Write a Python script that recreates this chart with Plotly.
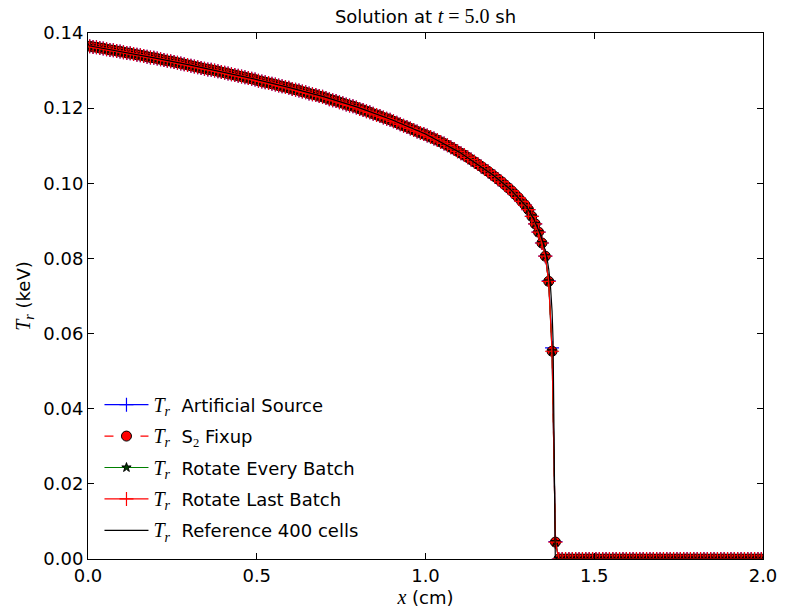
import plotly.graph_objects as go

# Cell-centred radiation temperature profiles (keV) on a 200-cell mesh over 0..2 cm
n_cells = 200
x_cells = [round(0.005 + 0.01 * i, 3) for i in range(n_cells)]

# Smooth body of the wave, x = 0.005 .. 1.295 cm (130 cells), common to all runs
tr_body = [
    0.1365, 0.1363, 0.1362, 0.1360, 0.1359, 0.1357, 0.1355, 0.1354, 0.1352, 0.1351,
    0.1349, 0.1347, 0.1346, 0.1344, 0.1342, 0.1341, 0.1339, 0.1337, 0.1335, 0.1334,
    0.1332, 0.1330, 0.1328, 0.1326, 0.1325, 0.1323, 0.1321, 0.1319, 0.1317, 0.1315,
    0.1313, 0.1311, 0.1309, 0.1307, 0.1305, 0.1303, 0.1302, 0.1300, 0.1298, 0.1296,
    0.1294, 0.1292, 0.1290, 0.1288, 0.1286, 0.1284, 0.1282, 0.1280, 0.1278, 0.1276,
    0.1273, 0.1271, 0.1269, 0.1267, 0.1265, 0.1263, 0.1260, 0.1258, 0.1256, 0.1254,
    0.1251, 0.1249, 0.1247, 0.1244, 0.1242, 0.1239, 0.1237, 0.1235, 0.1232, 0.1230,
    0.1227, 0.1224, 0.1221, 0.1219, 0.1216, 0.1213, 0.1210, 0.1207, 0.1205, 0.1202,
    0.1198, 0.1195, 0.1192, 0.1189, 0.1185, 0.1182, 0.1179, 0.1175, 0.1172, 0.1169,
    0.1165, 0.1161, 0.1157, 0.1153, 0.1150, 0.1146, 0.1142, 0.1138, 0.1134, 0.1131,
    0.1127, 0.1123, 0.1119, 0.1115, 0.1110, 0.1106, 0.1101, 0.1096, 0.1091, 0.1085,
    0.1080, 0.1075, 0.1069, 0.1063, 0.1057, 0.1051, 0.1045, 0.1038, 0.1032, 0.1025,
    0.1018, 0.1011, 0.1004, 0.0996, 0.0988, 0.0980, 0.0971, 0.0962, 0.0952, 0.0942,
]

# Wave front, x = 1.305 .. 1.385 cm, per run
front_artificial_source = [0.0930, 0.0912, 0.0892, 0.0870, 0.0841, 0.0806, 0.0740, 0.0562, 0.0046]
front_s2_fixup = [0.0930, 0.0912, 0.0892, 0.0870, 0.0841, 0.0806, 0.0739, 0.0553, 0.0045]
front_rotate_every = [0.0930, 0.0912, 0.0892, 0.0870, 0.0841, 0.0806, 0.0739, 0.0553, 0.0045]
front_rotate_last = [0.0930, 0.0912, 0.0892, 0.0870, 0.0841, 0.0806, 0.0739, 0.0553, 0.0045]

# Cold region ahead of the front, x = 1.395 .. 1.995 cm (61 cells)
tr_cold = [
    0.0, 0.0, 0.0, 0.0, 0.0, 0.0, 0.0, 0.0, 0.0, 0.0,
    0.0, 0.0, 0.0, 0.0, 0.0, 0.0, 0.0, 0.0, 0.0, 0.0,
    0.0, 0.0, 0.0, 0.0, 0.0, 0.0, 0.0, 0.0, 0.0, 0.0,
    0.0, 0.0, 0.0, 0.0, 0.0, 0.0, 0.0, 0.0, 0.0, 0.0,
    0.0, 0.0, 0.0, 0.0, 0.0, 0.0, 0.0, 0.0, 0.0, 0.0,
    0.0, 0.0, 0.0, 0.0, 0.0, 0.0, 0.0, 0.0, 0.0, 0.0,
    0.0,
]

tr_artificial_source = tr_body + front_artificial_source + tr_cold
tr_s2_fixup = tr_body + front_s2_fixup + tr_cold
tr_rotate_every = tr_body + front_rotate_every + tr_cold
tr_rotate_last = tr_body + front_rotate_last + tr_cold

# Fine-mesh (400 cells) reference solution, sampled along its profile
ref_x = [0.0025, 0.1, 0.2, 0.3, 0.4, 0.5, 0.6, 0.7, 0.8, 0.9, 1.0, 1.1, 1.2, 1.25,
         1.3, 1.32, 1.34, 1.35, 1.36, 1.365, 1.37, 1.375, 1.378, 1.3805, 1.3825,
         1.3845, 1.3875, 2.0]
ref_tr = [0.1366, 0.1350, 0.1333, 0.1315, 0.1296, 0.1276, 0.1254, 0.1230, 0.1202,
          0.1169, 0.1131, 0.1083, 0.1022, 0.0985, 0.0937, 0.0906, 0.0865, 0.0838,
          0.0800, 0.0772, 0.0730, 0.0660, 0.0580, 0.0420, 0.0180, 0.0010, 0.0, 0.0]

SERIF = "Liberation Serif"
FONT = "DejaVu Sans"
FS = 18
MATH_FS = 20


def math(text):
    return f'<span style="font-family:{SERIF};font-size:{MATH_FS}px">{text}</span>'


def tr_label(text):
    return f'{math("<i>T<sub>r</sub></i>")}  {text}'


fig = go.Figure()

fig.add_trace(go.Scatter(
    x=x_cells, y=tr_artificial_source, mode="lines+markers",
    name=tr_label("Artificial Source"), legendgroup="a",
    line=dict(color="#0000ff", width=1.2),
    marker=dict(symbol="cross-thin-open", size=10, line=dict(color="#0000ff", width=1.2)),
))
fig.add_trace(go.Scatter(
    x=x_cells, y=tr_s2_fixup, mode="lines+markers",
    name=tr_label(f'S<sub><span style="font-family:{SERIF}">2</span></sub> Fixup'),
    legendgroup="b",
    line=dict(color="#ff0000", width=1.2, dash="dash"),
    marker=dict(symbol="circle", size=10, color="#ff0000", line=dict(color="#000000", width=1)),
))
fig.add_trace(go.Scatter(
    x=x_cells, y=tr_rotate_every, mode="lines+markers",
    name=tr_label("Rotate Every Batch"), legendgroup="c",
    line=dict(color="#008000", width=1.2),
    marker=dict(symbol="star", size=7, color="#004000", line=dict(color="#000000", width=1)),
))
fig.add_trace(go.Scatter(
    x=x_cells, y=tr_rotate_last, mode="lines+markers",
    name=tr_label("Rotate Last Batch"), legendgroup="d",
    line=dict(color="#ff0000", width=1.2),
    marker=dict(symbol="cross-thin-open", size=10, line=dict(color="#ff0000", width=1.2)),
))
fig.add_trace(go.Scatter(
    x=ref_x, y=ref_tr, mode="lines",
    name=tr_label("Reference 400 cells"), legendgroup="e",
    line=dict(color="#000000", width=1.2),
))

axis_common = dict(
    showgrid=False, zeroline=False, showline=True, linecolor="black", linewidth=1,
    mirror="ticks", ticks="inside", ticklen=6, tickwidth=1, tickcolor="black",
    tickfont=dict(family=FONT, size=FS, color="black"),
)

fig.update_layout(
    width=789, height=614,
    margin=dict(l=88, r=20, t=33, b=54),
    paper_bgcolor="white", plot_bgcolor="white",
    font=dict(family=FONT, size=FS, color="black"),
    title=dict(
        text=f'Solution at {math("<i>t</i> = 5.0")} sh',
        x=0.5, xref="paper", y=1 - 17 / 614, yref="container",
        xanchor="center", yanchor="middle",
        font=dict(family=FONT, size=FS, color="black"),
    ),
    xaxis=dict(
        range=[0, 2], tickvals=[0, 0.5, 1.0, 1.5, 2.0], tickformat=".1f",
        title=dict(text=f'{math("<i>x</i>")} (cm)', standoff=4, font=dict(size=FS)),
        **axis_common,
    ),
    yaxis=dict(
        range=[0, 0.14], tickvals=[0, 0.02, 0.04, 0.06, 0.08, 0.10, 0.12, 0.14],
        tickformat=".2f",
        title=dict(text=f'{math("<i>T<sub>r</sub></i>")} (keV)', standoff=8, font=dict(size=FS)),
        **axis_common,
    ),
    legend=dict(
        x=0.017, y=0.02, xanchor="left", yanchor="bottom",
        bgcolor="rgba(0,0,0,0)", borderwidth=0,
        traceorder="grouped", tracegroupgap=5,
        font=dict(family=FONT, size=FS, color="black"),
        itemwidth=44,
    ),
    showlegend=True,
)

fig.write_html("out.html")
